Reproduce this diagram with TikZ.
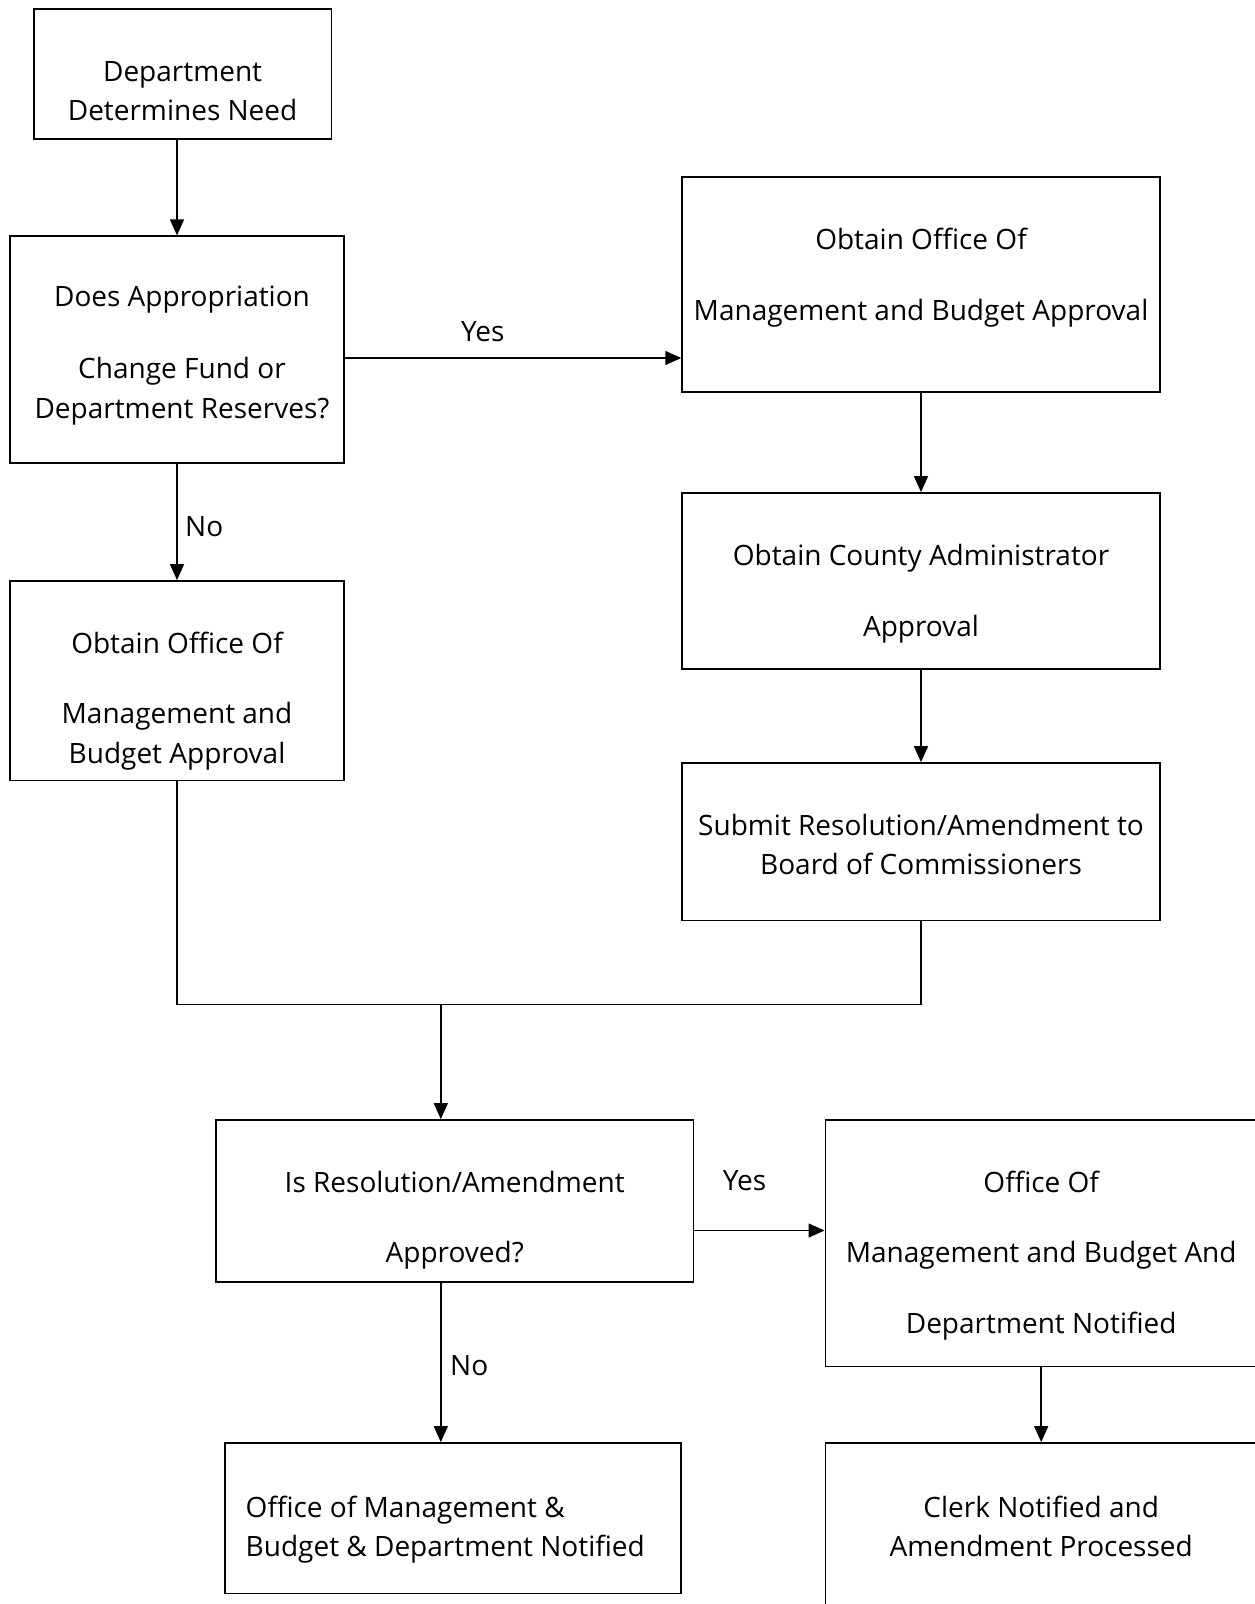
\documentclass[tikz,border=0pt]{standalone}
\usepackage{fontspec}
\setmainfont{Open Sans}
\usetikzlibrary{arrows.meta}
\begin{document}
\begin{tikzpicture}[x=1pt,y=-1pt,
  box/.style={draw, line width=1.8pt, inner sep=0pt, rectangle},
  txt/.style={font=\fontsize{28}{33}\selectfont, inner sep=0pt, anchor=base},
  ltxt/.style={font=\fontsize{28}{33}\selectfont, inner sep=0pt, anchor=base west},
  conn/.style={line width=1.5pt},
  arr/.style={conn, -{Triangle[width=14pt,length=16pt]}}]
\useasboundingbox (0,0) rectangle (1255,1604);
\clip (0,0) rectangle (1255,1604);
% boxes
\node[box, minimum width=297.6pt, minimum height=129.9pt] (b1) at (182.6,74.2) {};
\node[box, minimum width=333.5pt, minimum height=227pt] (b2) at (177,349.8) {};
\node[box, minimum width=477.7pt, minimum height=214.7pt] (b3) at (921,284.4) {};
\node[box, minimum width=477.7pt, minimum height=176pt] (b4) at (921,581) {};
\node[box, minimum width=477.7pt, minimum height=157.5pt] (b6) at (921,841.8) {};
\node[box, minimum width=333.5pt, minimum height=199.4pt] (b5) at (177,680.7) {};
\node[box, minimum width=477.7pt, minimum height=161.6pt] (b7) at (454.7,1200.8) {};
\node[box, minimum width=436pt, minimum height=246.5pt] (b8) at (1043.4,1243.3) {};
\node[box, minimum width=436pt, minimum height=180pt] (b9) at (1043.4,1533) {};
\node[box, minimum width=456.2pt, minimum height=150.5pt] (b10) at (453.1,1518.3) {};
% texts
\node[txt] (t1a) at (182.6,81.6) {Department};
\node[txt] (t1b) at (182.6,120.4) {Determines Need};
\node[txt] (t2a) at (182,306.6) {Does Appropriation};
\node[txt] (t2b) at (182,378.2) {Change Fund or};
\node[txt] (t2c) at (182,418.1) {Department Reserves?};
\node[txt] (t3a) at (921,249.3) {Obtain Office Of};
\node[txt] (t3b) at (921,320.9) {Management and Budget Approval};
\node[txt] (t4a) at (921,565.4) {Obtain County Administrator};
\node[txt] (t4b) at (921,636) {Approval};
\node[txt] (t6a) at (921,835.4) {Submit Resolution/Amendment to};
\node[txt] (t6b) at (921,874.3) {Board of Commissioners};
\node[txt] (t5a) at (177,653.3) {Obtain Office Of};
\node[txt] (t5b) at (177,723.9) {Management and};
\node[txt] (t5c) at (177,763.8) {Budget Approval};
\node[txt] (t7a) at (454.7,1192.3) {Is Resolution/Amendment};
\node[txt] (t7b) at (454.7,1262.9) {Approved?};
\node[txt] (t8a) at (1041.2,1192.3) {Office Of};
\node[txt] (t8b) at (1041.2,1262.9) {Management and Budget And};
\node[txt] (t8c) at (1041.2,1333.5) {Department Notified};
\node[txt] (t9a) at (1041.2,1517.6) {Clerk Notified and};
\node[txt] (t9b) at (1041.2,1556.5) {Amendment Processed};
\node[ltxt] (t10a) at (245.5,1517.6) {Office of Management \&};
\node[ltxt] (t10b) at (245.5,1556.5) {Budget \& Department Notified};
% labels
\node[txt] (yes1) at (482.8,341.4) {Yes};
\node[ltxt] (no1) at (185,536.7) {No};
\node[txt] (yes2) at (744.6,1190.3) {Yes};
\node[ltxt] (no2) at (450,1375.4) {No};
% connectors
\coordinate (mL) at (177,1004.4);
\coordinate (mR) at (921,1004.4);
\coordinate (mC) at (440.8,1004.4);
\draw[arr] (b2.north |- b1.south) -- (b2.north);
\draw[arr] (b2.east |- 0,358) -- (b3.west |- 0,358);
\draw[arr] (b2.south) -- (b5.north);
\draw[arr] (b3.south) -- (b4.north);
\draw[arr] (b4.south) -- (b6.north);
\draw[conn] (b5.south) -- (mL) -- (mR) -- (b6.south);
\draw[arr] (mC) -- (mC |- b7.north);
\draw[arr] (b7.east |- 0,1230.5) -- (b8.west |- 0,1230.5);
\draw[arr] (mC |- b7.south) -- (mC |- b10.north);
\draw[arr] (1041.2,0 |- b8.south) -- (1041.2,0 |- b9.north);
\end{tikzpicture}
\end{document}
